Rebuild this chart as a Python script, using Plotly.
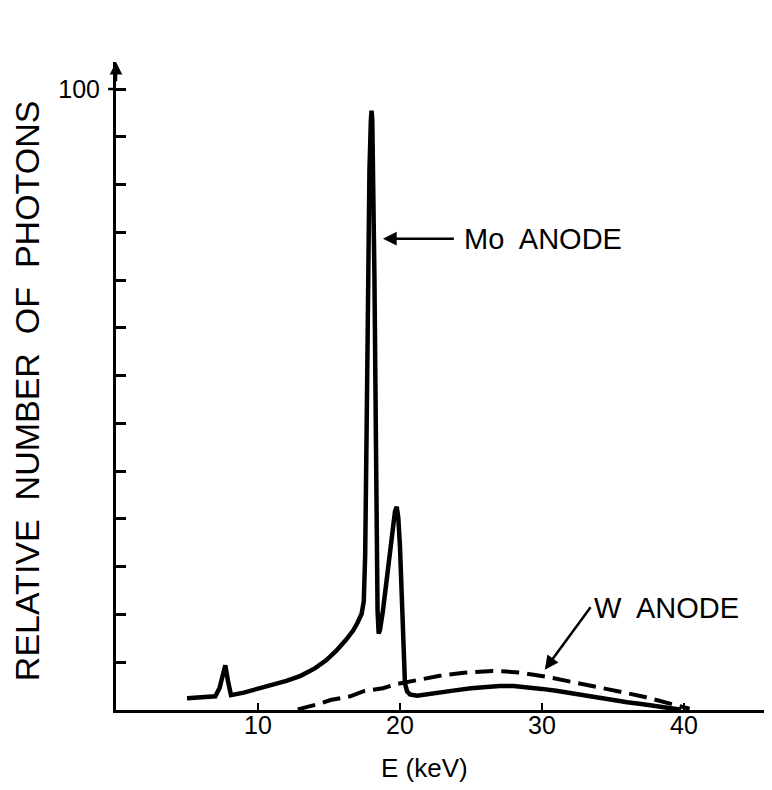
import plotly.graph_objects as go

# Mo anode spectrum (solid)
mo_kev = [5.0, 6.0, 7.0, 7.3, 7.5, 7.7, 7.9, 8.1, 9.0, 10.0, 11.0, 12.0, 13.0, 14.0, 14.8,
          15.5, 16.2, 16.7, 17.0, 17.3, 17.45, 17.55, 17.65, 17.75, 17.85, 17.95, 18.0,
          18.05, 18.12, 18.2, 18.3, 18.36, 18.42, 18.5, 18.6, 18.8, 19.06, 19.4, 19.65,
          19.77, 19.88, 20.0, 20.18, 20.35, 20.5, 20.7, 21.2, 22.0, 23.0, 24.0, 25.0,
          26.0, 27.0, 28.0, 29.0, 30.0, 31.0, 32.0, 33.0, 34.0, 35.0, 36.0, 37.0, 38.0,
          39.0, 39.8]
mo_counts = [1.9, 2.0, 2.2, 3.6, 5.8, 7.2, 4.5, 2.4, 2.8, 3.4, 4.0, 4.7, 5.5, 6.7, 8.0,
             9.5, 11.3, 12.8, 14.0, 15.5, 17.5, 25.0, 45.0, 70.0, 87.0, 95.0, 96.5,
             95.0, 85.0, 70.0, 45.0, 26.0, 16.0, 12.3, 13.0, 16.0, 21.0, 27.4, 32.0,
             32.7, 31.0, 26.3, 15.6, 4.3, 3.0, 2.5, 2.3, 2.6, 2.9, 3.2, 3.5,
             3.7, 3.85, 3.85, 3.7, 3.4, 3.1, 2.7, 2.3, 2.0, 1.6, 1.25, 0.95, 0.65,
             0.3, 0.05]

# W anode spectrum (dashed)
w_kev = [12.8, 13.5, 14.3, 15.1, 16.5, 17.4, 18.8, 19.8, 21.2, 22.8, 24.5, 25.5, 26.5,
         27.5, 28.5, 30.2, 32.0, 33.7, 35.5, 37.25, 39.0, 40.4]
w_counts = [0.1, 0.5, 1.0, 1.6, 2.2, 3.0, 3.5, 4.2, 4.8, 5.5, 6.0, 6.2, 6.3,
            6.2, 6.0, 5.4, 4.6, 3.75, 2.95, 2.1, 1.1, 0.2]

x_tick_vals = [10, 20, 30, 40]
x_tick_text = ["10", "20", "30", "40"]
y_tick_vals = [100 * k / 13 for k in range(1, 14)]
y_tick_text = [""] * 12 + ["100"]

FONT = "Liberation Sans, Arial, sans-serif"
INK = "black"

fig = go.Figure()
fig.add_trace(go.Scatter(x=mo_kev, y=mo_counts, mode="lines",
                         line=dict(color=INK, width=4.5), showlegend=False))
fig.add_trace(go.Scatter(x=w_kev, y=w_counts, mode="lines",
                         line=dict(color=INK, width=4, dash="18px,8px"), showlegend=False))

fig.update_layout(
    width=764, height=774,
    margin=dict(l=108, r=0, t=54, b=72),
    plot_bgcolor="white", paper_bgcolor="white",
    font=dict(family=FONT, color=INK),
    xaxis=dict(range=[0, 46.2], showline=True, linecolor=INK, linewidth=3,
               showgrid=False, zeroline=False, ticks="inside", ticklen=7, tickwidth=2,
               tickcolor=INK, tickvals=x_tick_vals, ticktext=x_tick_text,
               ticklabelstandoff=-9,
               tickfont=dict(size=25, family=FONT, color=INK)),
    yaxis=dict(range=[0, 104.35], showline=True, linecolor=INK, linewidth=3,
               showgrid=False, zeroline=False, ticks="inside", ticklen=10, tickwidth=2.5,
               tickcolor=INK, tickvals=y_tick_vals, ticktext=y_tick_text,
               ticklabelstandoff=8,
               tickfont=dict(size=25, family=FONT, color=INK)),
)

annotations = [
    # axis titles
    dict(text="E (keV)", xref="x", yref="paper", x=21.7, y=-0.0895, showarrow=False,
         font=dict(size=26, family=FONT, color=INK), xanchor="center", yanchor="middle"),
    dict(text="RELATIVE  NUMBER  OF  PHOTONS", xref="paper", yref="y", x=-0.1357, y=51.5,
         showarrow=False, textangle=-90, font=dict(size=34, family=FONT, color=INK),
         xanchor="center", yanchor="middle"),
    # Mo anode label and arrow
    dict(text="Mo  ANODE", xref="x", yref="y", x=24.35, y=75.9, showarrow=False,
         xanchor="left", yanchor="middle", font=dict(size=29, family=FONT, color=INK)),
    dict(text="", xref="x", yref="y", x=18.8, y=75.9, axref="x", ayref="y",
         ax=23.9, ay=75.9, showarrow=True, arrowhead=2, arrowsize=1.1, arrowwidth=2.5,
         arrowcolor=INK),
    # W anode label and arrow
    dict(text="W  ANODE", xref="x", yref="y", x=33.5, y=16.4, showarrow=False,
         xanchor="left", yanchor="middle", font=dict(size=29, family=FONT, color=INK)),
    dict(text="", xref="x", yref="y", x=30.2, y=6.5, axref="x", ayref="y",
         ax=33.5, ay=16.8, showarrow=True, arrowhead=2, arrowsize=1.1, arrowwidth=2.5,
         arrowcolor=INK),
    # arrow tip on top of y axis
    dict(text="", xref="x", yref="y", x=0, y=104.35, axref="x", ayref="y",
         ax=0, ay=101, showarrow=True, arrowhead=2, arrowsize=1, arrowwidth=2.5,
         arrowcolor=INK),
]
fig.update_layout(annotations=annotations)

# left part of the crossing tick at 100
fig.add_shape(type="line", xref="paper", yref="y", x0=-0.012, x1=0, y0=100, y1=100,
              line=dict(color=INK, width=2.5))

fig.write_html("out.html")
